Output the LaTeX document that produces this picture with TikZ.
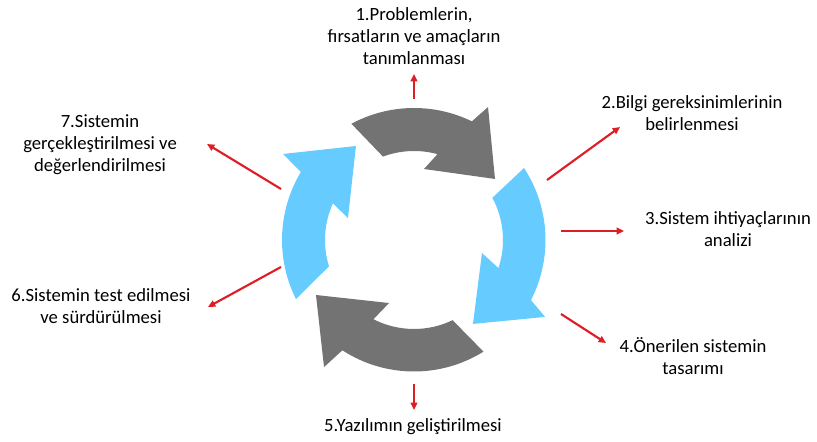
\documentclass[tikz,border=0pt]{standalone}
\usepackage{fontspec}
\setmainfont{Carlito}
\usetikzlibrary{arrows.meta}
\definecolor{ringgray}{RGB}{115,115,115}
\definecolor{ringblue}{RGB}{102,204,255}
\definecolor{linkred}{RGB}{222,30,38}
\begin{document}
\begin{tikzpicture}[x=0.75pt,y=0.75pt,
  lbl/.style={align=center,font=\fontsize{14}{16.5}\selectfont,inner sep=0pt},
  link/.style={draw=linkred,line width=1.6pt,-{Triangle[length=5.5pt,width=5pt]}}]
\useasboundingbox (0,0) rectangle (817,442);
% ring arrows
\begin{scope}[shift={(414,202)}]
\fill[ringgray] (118.3:132) arc[start angle=118.3,end angle=64,radius=132] -- (60.9:152.2) -- (37:101.4) -- (82:71.7) -- (74.7:89) arc[start angle=74.7,end angle=110.4,radius=89] -- cycle;
\fill[ringblue] (33.2:131.5) arc[start angle=33.2,end angle=-27.2,radius=131.5] -- (-30.4:152) -- (-54.9:102.6) -- (-10.8:69.2) -- (-18.4:89) arc[start angle=-18.4,end angle=28.3,radius=89] -- cycle;
\fill[ringgray] (-58.1:131.5) arc[start angle=-58.1,end angle=-123,radius=131.5] -- (-125.3:155.7) -- (-150.7:112.4) -- (-111.6:67.8) -- (-117.1:89) arc[start angle=-117.1,end angle=-64.3,radius=89] -- cycle;
\fill[ringblue] (206.6:132) arc[start angle=206.6,end angle=149,radius=132] -- (146.7:156.7) -- (121.7:110.5) -- (161.6:69.6) -- (155.7:89) arc[start angle=155.7,end angle=197.2,radius=89] -- cycle;
\end{scope}
% labels
\node[lbl] (l1) at (414,406) {1.Problemlerin,\\fırsatların ve amaçların\\tanımlanması};
\node[lbl] (l2) at (692,329) {2.Bilgi gereksinimlerinin\\belirlenmesi};
\node[lbl] (l3) at (728,213) {3.Sistem ihtiyaçlarının\\analizi};
\node[lbl] (l4) at (693,86) {4.Önerilen sistemin\\tasarımı};
\node[lbl] (l5) at (413,15) {5.Yazılımın geliştirilmesi};
\node[lbl] (l6) at (101,135.5) {6.Sistemin test edilmesi\\ve sürdürülmesi};
\node[lbl] (l7) at (100,297.5) {7.Sistemin\\gerçekleştirilmesi ve\\değerlendirilmesi};
% connector ends
\coordinate (s1) at (414,343); \coordinate (e1) at (414,368);
\coordinate (s2) at (547,262); \coordinate (e2) at (620,315);
\coordinate (s3) at (561,211); \coordinate (e3) at (624,211);
\coordinate (s4) at (561,128); \coordinate (e4) at (606,99);
\coordinate (s5) at (414,58);  \coordinate (e5) at (414,32);
\coordinate (s6) at (281,175); \coordinate (e6) at (208,135);
\coordinate (s7) at (281,253); \coordinate (e7) at (207,298);
\foreach \i in {1,...,7} {\draw[link] (s\i) -- (e\i);}
\end{tikzpicture}
\end{document}
